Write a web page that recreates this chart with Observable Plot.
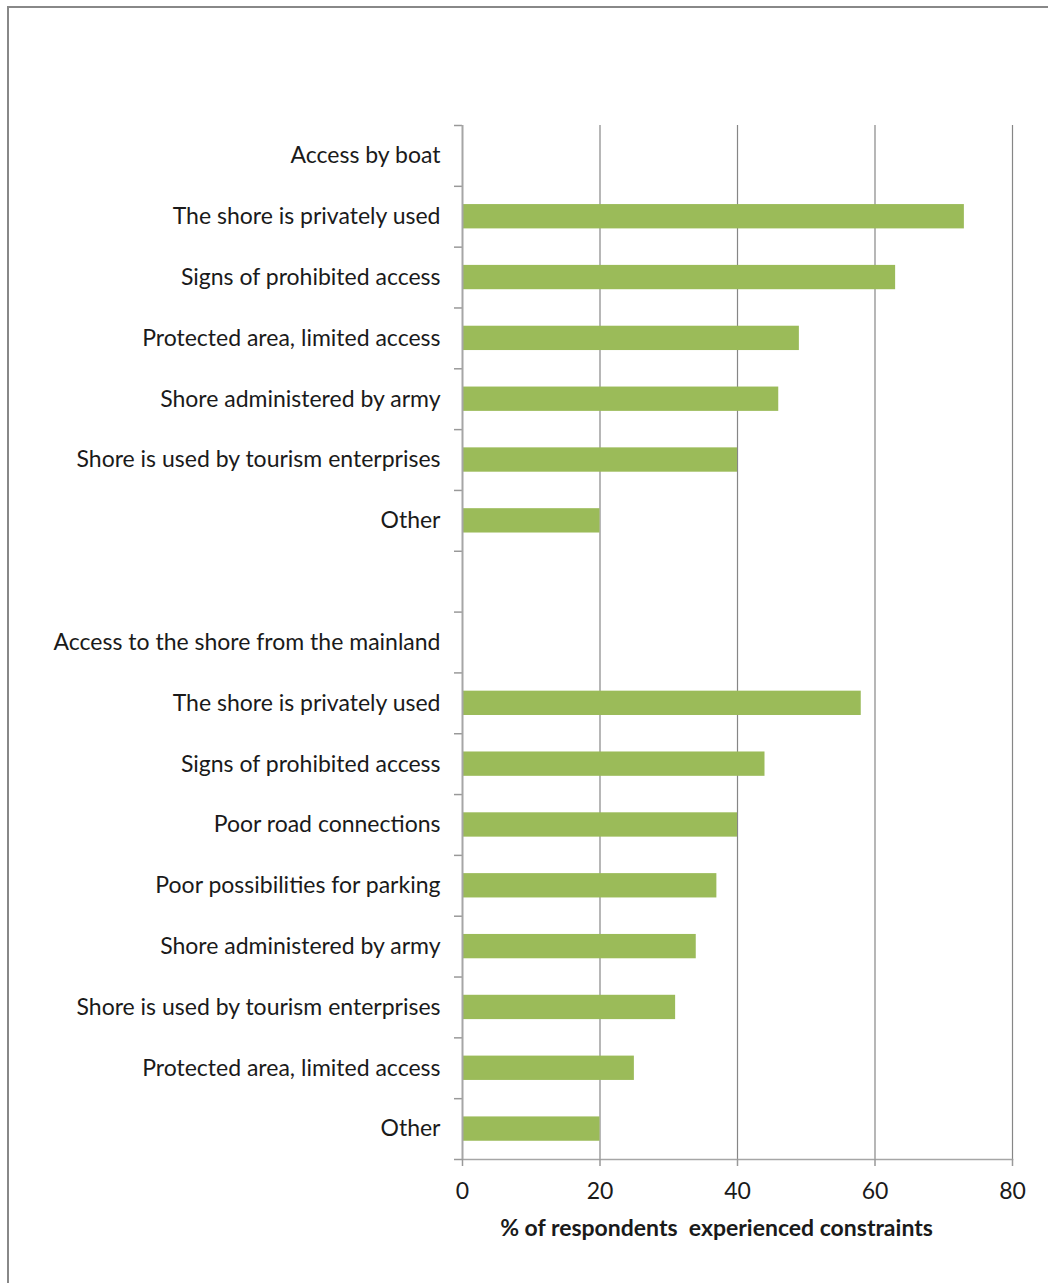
<!DOCTYPE html>
<html>
<head>
<meta charset="utf-8">
<script src="https://cdn.jsdelivr.net/npm/d3@7"></script>
<script src="https://cdn.jsdelivr.net/npm/@observablehq/plot@0.6"></script>
<style>
  html, body { margin: 0; padding: 0; background: #fff; }
  #wrap { position: relative; width: 1048px; height: 1283px; overflow: hidden; }
  #border { position: absolute; left: 7px; top: 6px; width: 1200px; height: 1400px;
            border-left: 2px solid #888; border-top: 2px solid #888; box-sizing: border-box; }
  #chart { position: absolute; left: 0; top: 0; }
  #chart svg { font-family: Lato, "Open Sans", sans-serif; }
</style>
</head>
<body>
<div id="wrap"><div id="border"></div><div id="chart"></div></div>
<script>
// Category slots (top to bottom); header and gap slots carry no bar
const keys = ["b_head","b1","b2","b3","b4","b5","b6","gap","m_head","m1","m2","m3","m4","m5","m6","m7","m8"];
const labels = [
  "Access by boat",
  "The shore is privately used",
  "Signs of prohibited access",
  "Protected area, limited access",
  "Shore administered by army",
  "Shore is used by tourism enterprises",
  "Other",
  "",
  "Access to the shore from the mainland",
  "The shore is privately used",
  "Signs of prohibited access",
  "Poor road connections",
  "Poor possibilities for parking",
  "Shore administered by army",
  "Shore is used by tourism enterprises",
  "Protected area, limited access",
  "Other"
];
const values = [null, 73, 63, 49, 46, 40, 20, null, null, 58, 44, 40, 37, 34, 31, 25, 20];
const xTicks = [0, 20, 40, 60, 80];
const xLabel = "% of respondents  experienced constraints";

const data = keys.map((k, i) => ({key: k, label: labels[i], value: values[i]})).filter(d => d.value != null);
const labelOf = new Map(keys.map((k, i) => [k, labels[i]]));

const W = 1048, H = 1283;
const mTop = 125, mBottom = H - 1159, mLeft = 462, mRight = W - 1012;
const step = (H - mTop - mBottom) / keys.length;
const font = 23;

const chart = Plot.plot({
  width: W,
  height: H,
  marginTop: mTop,
  marginBottom: mBottom,
  marginLeft: mLeft,
  marginRight: mRight,
  style: {fontSize: font + "px", color: "#1a1a1a", background: "transparent"},
  x: {domain: [0, 80], ticks: xTicks},
  y: {domain: keys, paddingInner: 0.6, paddingOuter: 0.3, round: false, axis: null},
  marks: [
    Plot.ruleX(xTicks.filter(d => d > 0), {stroke: "#868686", strokeWidth: 1.2}),
    Plot.barX(data, {x: "value", y: "key", fill: "#9BBB59"}),
    // boundary tick marks on the y axis
    Plot.axisY({tickSize: 8, text: null, label: null, dy: -step / 2, stroke: "#999", strokeWidth: 1.5}),
    Plot.axisY({ticks: [keys[keys.length - 1]], tickSize: 8, text: null, label: null, dy: step / 2, stroke: "#999", strokeWidth: 1.5}),
    // category labels
    Plot.axisY({tickSize: 0, tickPadding: 22, label: null, tickFormat: d => labelOf.get(d), fill: "#1a1a1a", fontSize: font}),
    Plot.ruleX([0], {stroke: "#a6a6a6", strokeWidth: 2}),
    Plot.frame({anchor: "bottom", stroke: "#a6a6a6", strokeWidth: 1.5}),
    Plot.axisX({ticks: xTicks, tickSize: 7, tickPadding: 16, stroke: "#999", strokeWidth: 1.5, fill: "#1a1a1a", fontSize: font, label: null}),
    Plot.text([xLabel], {frameAnchor: "bottom", dy: 76, dx: -21, fontWeight: "bold", fontSize: font, fill: "#1a1a1a"})
  ]
});
document.getElementById("chart").appendChild(chart);
</script>
</body>
</html>
